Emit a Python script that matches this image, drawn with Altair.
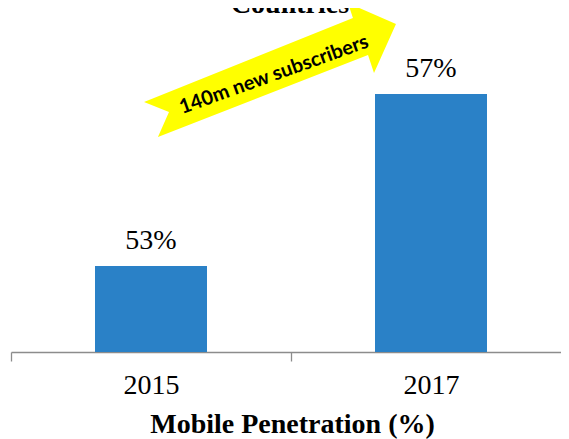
import altair as alt
import pandas as pd

# data
years = ["2015", "2017"]
penetration = [53, 57]
arrow_text = ["140m new subscribers"]
title_text = ["Countries"]

bars_df = pd.DataFrame({"year": years, "value": penetration})
ann_df = pd.DataFrame({"text": arrow_text})
title_df = pd.DataFrame({"text": title_text})

W, H = 550, 344
SERIF = "Liberation Serif"

x_enc = alt.X(
    "year:N",
    sort=years,
    scale=alt.Scale(paddingInner=0, paddingOuter=0, range=[0, 560]),
    axis=alt.Axis(
        title="Mobile Penetration (%)",
        labelAngle=0,
        labelFont=SERIF,
        labelFontSize=28,
        labelColor="#000000",
        labelBaseline="alphabetic",
        labelPadding=32,
        tickBand="extent",
        tickSize=9,
        tickColor="#8c8c8c",
        tickWidth=1.3,
        domainColor="#8c8c8c",
        domainWidth=1.3,
        titleFont=SERIF,
        titleFontSize=28,
        titleFontWeight="bold",
        titleColor="#000000",
        titleBaseline="alphabetic",
        titleY=80,
        titleX=281,
        grid=False,
    ),
)
y_enc = alt.Y("value:Q", scale=alt.Scale(domain=[51, 59], zero=False, nice=False), axis=None)

base = alt.Chart(bars_df)

bars = base.mark_bar(color="#2A81C7", width=alt.RelativeBandSize(0.4)).encode(
    x=x_enc, y=y_enc, y2=alt.datum(51)
)

labels = base.mark_text(
    font=SERIF, fontSize=28, color="#000000", baseline="alphabetic", dy=-17
).transform_calculate(label="datum.value + '%'").encode(
    x=x_enc, y=y_enc, text="label:N"
)

arrow_path = (
    "M-0.969,0.246 L0.638,-0.400 L0.600,-0.515 L0.969,-0.354 "
    "L0.800,0.023 L0.754,-0.115 L-0.862,0.515 L-0.777,0.323 Z"
)
arrow = alt.Chart(ann_df).mark_point(
    shape=arrow_path, filled=True, fill="#FFFF00", stroke="#FFFF00",
    strokeWidth=0, opacity=1, size=67600
).encode(x=alt.value(259), y=alt.value(62))

arrow_label = alt.Chart(ann_df).mark_text(
    font="Lato", fontWeight="bold", fontSize=20, color="#000000",
    align="center", baseline="alphabetic", angle=340.3
).encode(x=alt.value(265), y=alt.value(72.5), text="text:N")

title = alt.Chart(title_df).mark_text(
    font=SERIF, fontWeight="bold", fontSize=28, color="#000000",
    align="center", baseline="alphabetic"
).encode(x=alt.value(279), y=alt.value(5), text="text:N")

chart = alt.layer(bars, labels, title, arrow, arrow_label).properties(
    width=W,
    height=H,
    autosize=alt.AutoSizeParams(type="none"),
    padding={"left": 3, "top": 0, "right": 0, "bottom": 87},
).configure_view(stroke=None)

chart.save("out.html", embed_options={"renderer": "svg", "actions": False})
